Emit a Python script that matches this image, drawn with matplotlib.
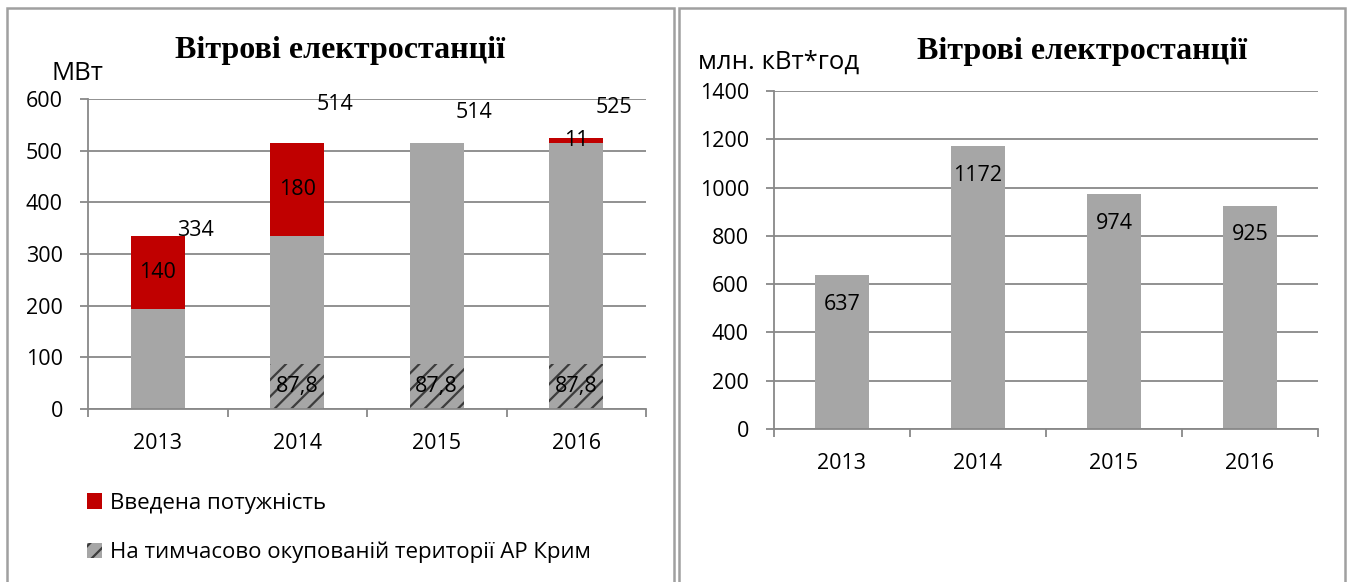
import numpy as np
import matplotlib
matplotlib.use("Agg")
import matplotlib.pyplot as plt
from matplotlib.patches import Patch, Rectangle

# Data ##########################################
years = ["2013", "2014", "2015", "2016"]
crimea_mw = [0, 87.8, 87.8, 87.8]          # hatched part
base_mw = [194, 246.2, 426.2, 426.2]       # grey part above hatch
added_mw = [140, 180, 0, 11]               # red part on top
total_mw = [334, 514, 514, 525]
crimea_labels = ["", "87,8", "87,8", "87,8"]
added_labels = ["140", "180", "", "11"]
total_label_y = [346, 590, 573, 584]       # where the totals sit in the picture
energy = [637, 1172, 974, 925]             # млн. кВт*год

# Style #########################################
W, H = 1351, 582
GREY = "#A6A6A6"
RED = "#C00000"
LINE = "#888888"
FONT = "Open Sans"
FS = 15.5
plt.rcParams["font.family"] = [FONT, "DejaVu Sans"]
plt.rcParams["hatch.color"] = "#3C3C3C"
plt.rcParams["hatch.linewidth"] = 1.6

fig = plt.figure(figsize=(W / 100, H / 100), dpi=100)


def box(x0, y0, x1, y1):
    # pixel box (top-left origin) -> figure fraction
    return [x0 / W, 1 - y1 / H, (x1 - x0) / W, (y1 - y0) / H]


def style_axes(ax, ymax, step):
    ax.set_ylim(0, ymax)
    ax.set_yticks(np.arange(0, ymax + 1, step))
    ax.set_xlim(-0.5, 3.5)
    ax.set_xticks(np.arange(-0.5, 4, 1))
    ax.set_xticklabels([])
    ax.set_xticks(range(4), minor=True)
    ax.set_xticklabels(years, minor=True, fontsize=FS)
    ax.tick_params(axis="x", which="major", length=6, width=1.3, color=LINE, direction="out")
    ax.tick_params(axis="x", which="minor", length=0, pad=17)
    ax.tick_params(axis="y", length=6, width=1.3, color=LINE, labelsize=FS, pad=12)
    ax.grid(axis="y", color=LINE, linewidth=1.3)
    ax.set_axisbelow(True)
    for s in ["top", "right"]:
        ax.spines[s].set_visible(False)
    for s in ["left", "bottom"]:
        ax.spines[s].set_color(LINE)
        ax.spines[s].set_linewidth(1.3)
    ax.set_facecolor("none")


# Left: installed capacity ######################
ax1 = fig.add_axes(box(88, 99, 646, 409))
x = np.arange(len(years))
bw = 0.39
ax1.bar(x, crimea_mw, bw, color=GREY, hatch="//", linewidth=0)
base_bottom = np.array(crimea_mw)
ax1.bar(x, base_mw, bw, bottom=base_bottom, color=GREY, linewidth=0)
red_bottom = base_bottom + np.array(base_mw)
ax1.bar(x, added_mw, bw, bottom=red_bottom, color=RED, linewidth=0)
style_axes(ax1, 600, 100)

for i in range(len(years)):
    if crimea_labels[i]:
        ax1.text(i, crimea_mw[i] / 2, crimea_labels[i], ha="center", va="center", fontsize=FS)
    if added_labels[i]:
        ax1.text(i, red_bottom[i] + added_mw[i] / 2, added_labels[i], ha="center", va="center", fontsize=FS)
    ax1.text(i + 0.27, total_label_y[i], str(total_mw[i]), ha="center", va="center", fontsize=FS)

fig.text(340 / W, 1 - 58 / H, "Вітрові електростанції", ha="center", va="baseline",
         fontsize=23, fontweight="bold", family="Liberation Serif")
fig.text(52 / W, 1 - 73 / H, "МВт", ha="left", va="center", fontsize=18.5)

handles = [Patch(facecolor=RED, linewidth=0),
           Patch(facecolor=GREY, hatch="//", linewidth=0)]
fig.legend(handles, ["Введена потужність", "На тимчасово окупованій території АР Крим"],
           loc="upper left", bbox_to_anchor=(78 / W, 1 - 484 / H), frameon=False,
           fontsize=16, handlelength=0.7, handleheight=0.7, handletextpad=0.35,
           labelspacing=1.25, borderaxespad=0)

# Right: generation #############################
ax2 = fig.add_axes(box(774, 91, 1318, 429))
ax2.bar(x, energy, 0.40, color=GREY, linewidth=0)
style_axes(ax2, 1400, 200)
for i, v in enumerate(energy):
    ax2.annotate(str(v), (i, v), xytext=(0, -21), textcoords="offset points",
                 ha="center", va="center", fontsize=FS)

fig.text(1082 / W, 1 - 59 / H, "Вітрові електростанції", ha="center", va="baseline",
         fontsize=23, fontweight="bold", family="Liberation Serif")
fig.text(698 / W, 1 - 62 / H, "млн. кВт*год", ha="left", va="center", fontsize=18.5)

# chart frames ##################################
for x0, x1 in [(7, 674), (679, 1345)]:
    fig.patches.append(Rectangle((x0 / W, -0.1), (x1 - x0) / W, 1.1 - 8 / H,
                                 transform=fig.transFigure, fill=False,
                                 edgecolor="#A0A0A0", linewidth=1.8))

fig.savefig("out.png", dpi=100)
